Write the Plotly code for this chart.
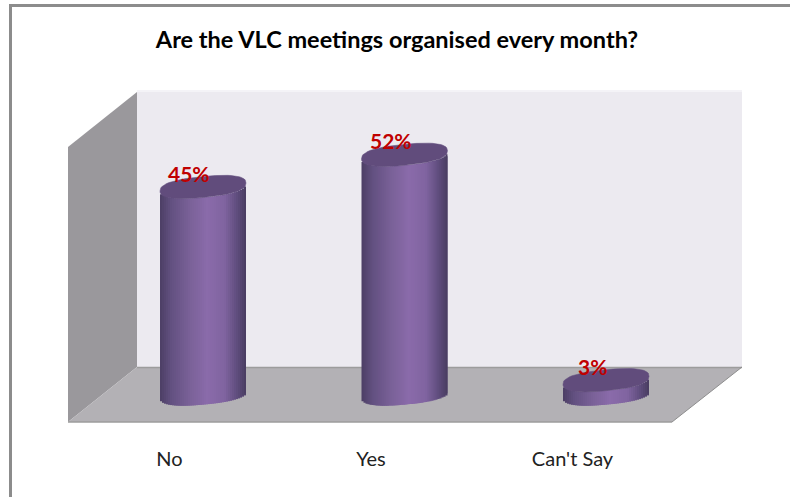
import math
import plotly.graph_objects as go

categories = ["No", "Yes", "Can't Say"]
values = [45, 52, 3]
title = "Are the VLC meetings organised every month?"

W, H, PH = 790, 497, 422      # page size and plot-area height
ZERO_PY, PX_PER_UNIT = 394, 4.6
CENTER0, SPACING = 203, 201.5
A, B, TILT, ROUND = 43, 10.5, 4, 2.5    # cylinder end-cap radii, tilt and roundness in px
N = 43
LABEL_SHIFT = -33.5


def xp(px):
    return px / W


def yp(py):
    return 1 - py / PH


def path(points):
    return "M " + " L ".join(f"{xp(a):.5f},{yp(b):.5f}" for a, b in points) + " Z"


def mix(stops, u):
    for (u0, c0), (u1, c1) in zip(stops, stops[1:]):
        if u <= u1:
            t = (u - u0) / (u1 - u0)
            return "rgb(" + ",".join(str(round(p + (q - p) * t)) for p, q in zip(c0, c1)) + ")"
    return "rgb(%d,%d,%d)" % stops[-1][1]


stops = [(-1.0, (76, 62, 100)), (-0.75, (98, 80, 128)), (-0.3, (122, 97, 152)),
         (0.1, (138, 107, 170)), (0.5, (128, 100, 160)), (0.8, (94, 76, 124)), (1.0, (72, 60, 96))]


def lower(u):
    return TILT * u - B * max(0, 1 - abs(u) ** ROUND) ** (1 / ROUND)


fig = go.Figure()
x_idx = list(range(len(categories)))
strip = 2 * A / N / SPACING
for k in range(N):
    u = -1 + (k + 0.5) * 2 / N
    base = lower(u) / PX_PER_UNIT
    wide = 1 if k == N - 1 else 2
    fig.add_bar(x=x_idx, y=values, base=[base] * len(values),
                offset=(u * A) / SPACING - strip / 2, width=strip * wide,
                xaxis="x2", yaxis="y", marker=dict(color=mix(stops, u), line_width=0),
                showlegend=False, hoverinfo="skip")

for i, v in zip(x_idx, values):
    xs, ys = [], []
    for d in range(0, 361, 6):
        t = math.radians(d)
        c, s = math.cos(t), math.sin(t)
        cu = math.copysign(abs(c) ** (2 / ROUND), c)
        su = math.copysign(abs(s) ** (2 / ROUND), s)
        xs.append(i + A * cu / SPACING)
        ys.append(v + (B * su + TILT * cu) / PX_PER_UNIT)
    fig.add_scatter(x=xs, y=ys, xaxis="x2", yaxis="y", mode="lines", fill="toself",
                    fillcolor="#614C7C", line=dict(color="#614C7C", width=0.5),
                    showlegend=False, hoverinfo="skip")

# invisible trace carrying the visible category axis
fig.add_scatter(x=x_idx, y=[0] * len(x_idx), mode="markers", marker=dict(opacity=0),
                xaxis="x", yaxis="y", showlegend=False, hoverinfo="skip")

GREY = "#8C8C8C"
P = dict(xref="paper", yref="paper", layer="below")
shapes = [
    dict(type="path", path=path([(137, 90), (742, 90), (742, 367), (137, 367)]),
         fillcolor="#ECEAF0", line_width=0, **P),
    dict(type="rect", x0=xp(137), x1=xp(742), y0=yp(92), y1=yp(90),
         fillcolor="#F4F3F7", line_width=0, **P),
    dict(type="path", path=path([(68, 147), (137, 92), (137, 367), (68, 422)]),
         fillcolor="#9A989C", line_width=0, **P),
    dict(type="path", path=path([(68, 422), (137, 367), (742, 367), (672, 422)]),
         fillcolor="#B3B1B5", line_width=0, **P),
    dict(type="line", x0=xp(137), x1=xp(742), y0=yp(367.5), y1=yp(367.5),
         line=dict(color="#9C9C9C", width=1.5), **P),
    dict(type="line", x0=xp(68), x1=xp(672), y0=yp(422), y1=yp(422),
         line=dict(color="#9C9C9C", width=1.5), **P),
    dict(type="line", x0=xp(672), x1=xp(742), y0=yp(422), y1=yp(367),
         line=dict(color="#8E8E8E", width=1), **P),
    dict(type="line", x0=xp(9), x1=xp(790), y0=yp(5.5), y1=yp(5.5),
         line=dict(color=GREY, width=3), **P),
    dict(type="line", x0=xp(10.5), x1=xp(10.5), y0=yp(4), y1=yp(497),
         line=dict(color=GREY, width=3), **P),
]

annotations = [
    dict(x=i, y=v, xref="x2", yref="y", text=f"<b>{v}%</b>", showarrow=False,
         xshift=-14, yshift=14, font=dict(family="Lato", size=21, color="#C00000"))
    for i, v in zip(x_idx, values)
]

x_range = [(0 - CENTER0) / SPACING, (W - CENTER0) / SPACING]
fig.update_layout(
    width=W, height=H, margin=dict(l=0, r=0, t=0, b=H - PH), autosize=False,
    paper_bgcolor="white", plot_bgcolor="rgba(0,0,0,0)", barmode="overlay",
    title=dict(text=title, x=397 / W, xanchor="center", y=1 - 40 / H, yanchor="middle",
               font=dict(family="Lato", size=23.5, color="black", weight="bold")),
    shapes=shapes, annotations=annotations,
    xaxis=dict(range=[r - LABEL_SHIFT / SPACING for r in x_range], tickmode="array",
               tickvals=x_idx, ticktext=categories, showgrid=False, zeroline=False,
               showline=False, ticks="", ticklabelstandoff=23,
               tickfont=dict(family="Lato", size=20, color="#222222")),
    xaxis2=dict(range=x_range, overlaying="x", visible=False),
    yaxis=dict(range=[(ZERO_PY - PH) / PX_PER_UNIT, ZERO_PY / PX_PER_UNIT],
               visible=False, fixedrange=True),
)
fig.write_html("out.html", config=dict(displayModeBar=False),
               post_script="document.body.style.margin='0';")
